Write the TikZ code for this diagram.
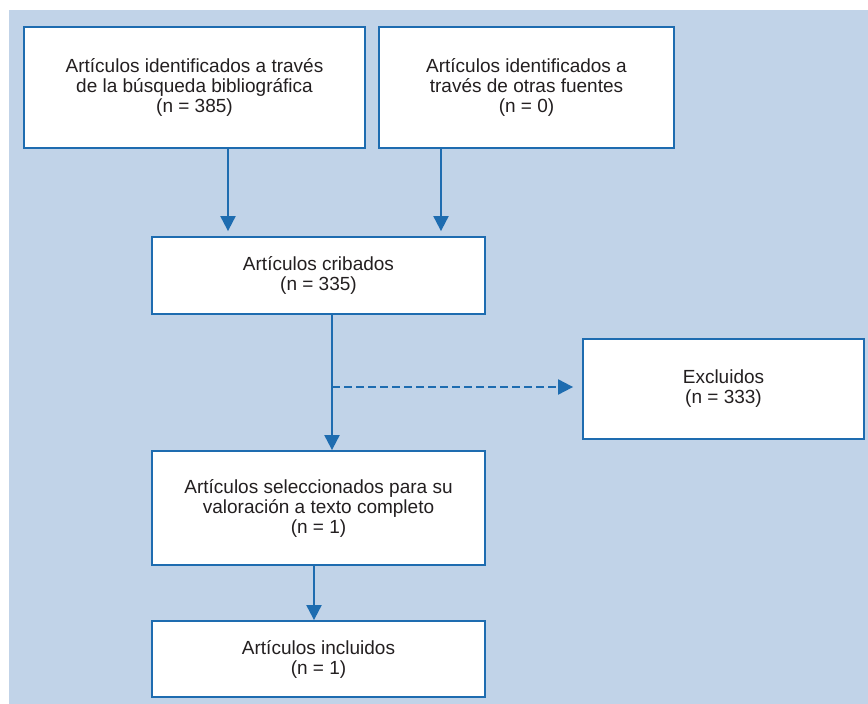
\documentclass[tikz,border=0pt]{standalone}
\usepackage{fontspec}
\setmainfont{Liberation Sans}
\usetikzlibrary{arrows.meta}
\definecolor{bgblue}{RGB}{193,211,232}
\definecolor{lineblue}{RGB}{30,108,176}
\definecolor{txt}{RGB}{35,31,32}
\tikzset{
  boxnode/.style={draw=lineblue, line width=1.8pt, fill=white, rectangle, align=center,
    text=txt, font=\fontsize{19}{20}\selectfont, inner sep=0pt},
  flow/.style={draw=lineblue, line width=2pt, -{Triangle[width=15pt,length=15pt]}},
  dflow/.style={draw=lineblue, line width=2pt, dash pattern=on 8pt off 4pt, -{Triangle[width=15pt,length=15pt]}}
}
\begin{document}
\begin{tikzpicture}[x=1pt,y=-1pt]
\useasboundingbox (0,0) rectangle (868,704);
\fill[white] (0,0) rectangle (868,704);
\fill[bgblue] (9,10) rectangle (868,704);
\node[boxnode, minimum width=341pt, minimum height=121pt] (b1) at (194.5,87.5)
  {Artículos identificados a través\\de la búsqueda bibliográfica\\(n = 385)};
\node[boxnode, minimum width=295pt, minimum height=121pt] (b2) at (526.5,87.5)
  {Artículos identificados a\\través de otras fuentes\\(n = 0)};
\node[boxnode, minimum width=333pt, minimum height=77pt] (b3) at (318.5,275.5)
  {Artículos cribados\\(n = 335)};
\node[boxnode, minimum width=281pt, minimum height=100pt] (ex) at (723.5,389)
  {Excluidos\\(n = 333)};
\node[boxnode, minimum width=333pt, minimum height=114pt] (b4) at (318.5,508)
  {Artículos seleccionados para su\\valoración a texto completo\\(n = 1)};
\node[boxnode, minimum width=333pt, minimum height=76pt] (b5) at (318.5,659)
  {Artículos incluidos\\(n = 1)};
\coordinate (c1) at (228,0);
\coordinate (c2) at (441,0);
\coordinate (c3) at (332,0);
\coordinate (c4) at (314,0);
\coordinate (j) at (332,387);
\draw[flow, shorten >=5pt] (b1.south -| c1) -- (b3.north -| c1);
\draw[flow, shorten >=5pt] (b2.south -| c2) -- (b3.north -| c2);
\draw[flow] (b3.south -| c3) -- (b4.north -| c3);
\draw[dflow, shorten >=9pt] (j) -- (ex.west |- j);
\draw[flow] (b4.south -| c4) -- (b5.north -| c4);
\end{tikzpicture}
\end{document}
